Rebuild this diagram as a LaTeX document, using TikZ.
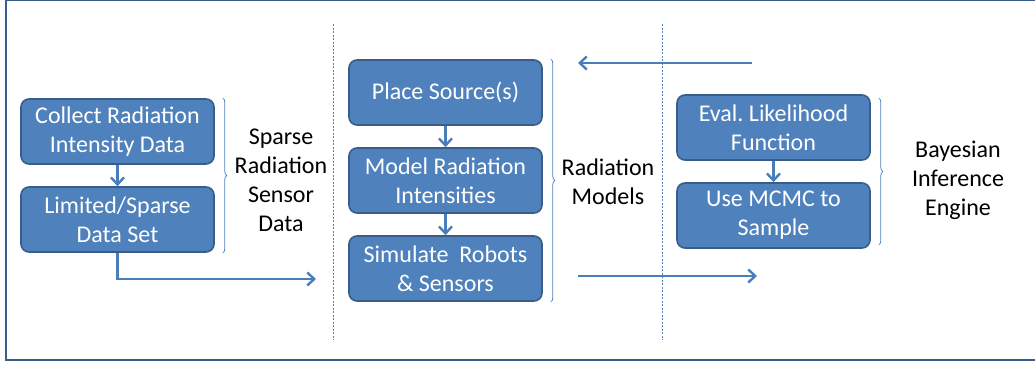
\documentclass[tikz,border=0pt]{standalone}
\usepackage{fontspec}
\setmainfont{Carlito}
\usepackage{xcolor}
\usetikzlibrary{shapes,arrows,positioning,arrows.meta,decorations.pathreplacing}

\definecolor{boxfill}{HTML}{4F81BD}
\definecolor{boxline}{HTML}{385D8A}
\definecolor{flowblue}{HTML}{4A7EBB}
\definecolor{framecol}{HTML}{3A5F8B}

\tikzset{
  stepbox/.style={draw=boxline, line width=1.6pt, fill=boxfill, rounded corners=8pt,
    minimum width=193pt, minimum height=65pt, align=center, text=white,
    font=\fontsize{24}{29}\selectfont},
  sidelabel/.style={align=center, font=\fontsize{24}{29}\selectfont},
  flow/.style={draw=flowblue, line width=2.4pt, -{Straight Barb[length=7pt,width=13pt,line width=2.4pt]}},
  sep/.style={draw=boxfill, line width=0.6pt, dash pattern=on 2pt off 1.5pt},
  grp/.style={draw=boxfill, line width=0.8pt, decorate, decoration={brace, amplitude=4pt}}
}

\begin{document}
\begin{tikzpicture}[x=1pt, y=-1pt, node distance=88pt]
        \clip (0,0) rectangle (1035,364);
        \useasboundingbox (0,0) rectangle (1035,364);

        % outer frame
        \draw [framecol, line width=2.6pt] (6,-0.6) rectangle (1045,360);

        % sensor data
        \node (collect) [stepbox] at (117.5,131.5) {Collect Radiation\\Intensity Data};
        \node (limited) [stepbox, below of=collect] {Limited/Sparse\\Data Set};
        \node (sparse) [sidelabel] at (281,180) {Sparse\\Radiation\\Sensor\\Data};

        % radiation models
        \node (place) [stepbox] at (445.5,92.5) {Place Source(s)};
        \node (model) [stepbox, below of=place] {Model Radiation\\Intensities};
        \node (simulate) [stepbox, below of=model] {Simulate~ Robots\\\& Sensors};
        \node (models) [sidelabel] at (608,182) {Radiation\\Models};

        % inference
        \node (eval) [stepbox] at (773.5,127.5) {Eval.\ Likelihood\\Function};
        \node (mcmc) [stepbox, below of=eval] {Use MCMC to\\Sample};
        \node (bayes) [sidelabel] at (958,180) {Bayesian\\Inference\\Engine};

        \coordinate (in1) at (316,279);
        \coordinate (back0) at (752,63);
        \coordinate (back1) at (578,63);
        \coordinate (out0) at (578,276);
        \coordinate (out1) at (757,276);

        \draw [sep] (333,24) -- (333,340);
        \draw [sep] (662,24) -- (662,340);

        \draw [grp] ([xshift=8pt] collect.north east) -- ([xshift=8pt] limited.south east);
        \draw [grp] ([xshift=8pt] place.north east) -- ([xshift=8pt] simulate.south east);
        \draw [grp] ([xshift=8pt, yshift=-4pt] eval.north east) -- ([xshift=8pt, yshift=4pt] mcmc.south east);

        \draw [flow] (collect) -- (limited);
        \draw [flow] (place) -- (model);
        \draw [flow] (model) -- (simulate);
        \draw [flow] (eval) -- (mcmc);

        \draw [flow] (limited.south) |- (in1);
        \draw [flow] (back0) -- (back1);
        \draw [flow] (out0) -- (out1);
    \end{tikzpicture}
\end{document}
